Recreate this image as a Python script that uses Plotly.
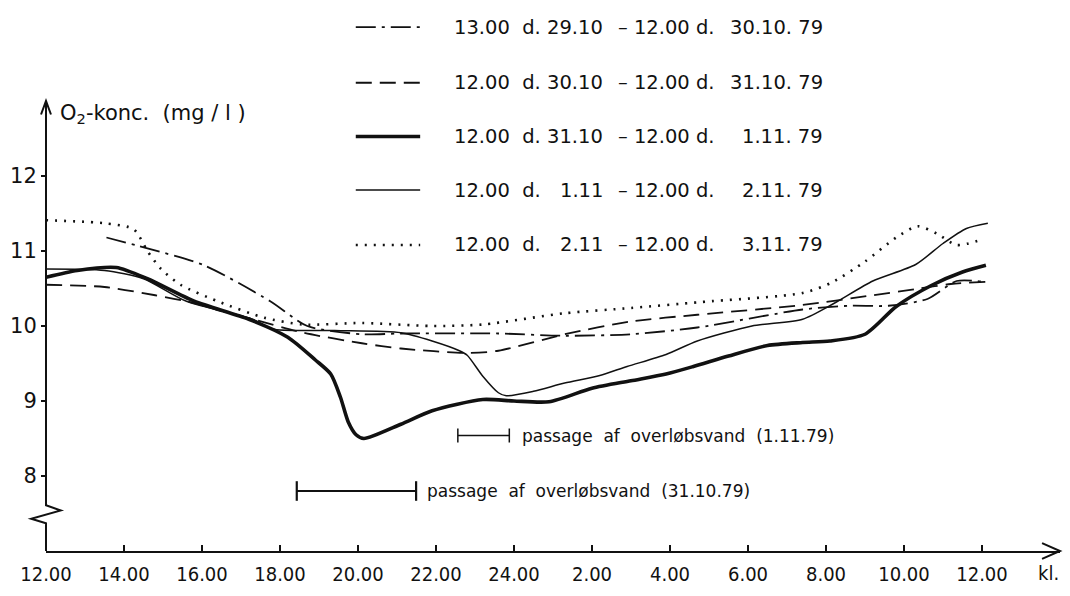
import plotly.graph_objects as go

# ---------------- data (hours after 12.00, O2 mg/l) ----------------
h_291030 = [1.55, 2.35, 4.05, 5.75, 6.7, 8.1, 9.1, 11.6, 13.3, 15.0, 16.7, 19.4, 20.6, 21.6, 22.6, 23.35, 24.05]
v_291030 = [11.18, 11.07, 10.81, 10.33, 10.0, 9.89, 9.90, 9.90, 9.87, 9.89, 9.98, 10.22, 10.27, 10.27, 10.36, 10.60, 10.59]

h_301031 = [0, 1.5, 2.8, 3.6, 5.3, 6.6, 8.1, 9.1, 10.8, 11.6, 13.3, 15.0, 16.7, 19.4, 21.2, 22.4, 23.2, 24.1]
v_301031 = [10.55, 10.52, 10.41, 10.33, 10.09, 9.91, 9.77, 9.70, 9.64, 9.67, 9.89, 10.06, 10.15, 10.28, 10.41, 10.50, 10.56, 10.59]

h_3110111 = [0, 0.8, 1.8, 2.6, 3.8, 5.2, 6.2, 6.9, 7.3, 7.55, 7.75, 7.95, 8.15, 9.1, 9.9, 11.2, 12.0, 12.9, 14.0, 15.0, 15.9, 16.6, 17.5, 18.5, 19.4, 20.1, 21.0, 21.8, 22.7, 23.5, 24.1]
v_3110111 = [10.65, 10.74, 10.78, 10.63, 10.33, 10.09, 9.85, 9.55, 9.36, 9.05, 8.72, 8.55, 8.50, 8.69, 8.87, 9.02, 9.00, 8.99, 9.17, 9.27, 9.36, 9.46, 9.60, 9.74, 9.78, 9.80, 9.89, 10.26, 10.54, 10.72, 10.81]

h_111211 = [0, 1.5, 2.5, 3.6, 5.3, 5.8, 7.4, 9.1, 9.9, 10.6, 10.8, 11.2, 11.6, 11.8, 12.5, 13.3, 14.2, 14.9, 15.9, 16.7, 18.1, 19.4, 20.2, 21.2, 22.3, 23.0, 23.6, 24.15]
v_111211 = [10.76, 10.74, 10.63, 10.33, 10.09, 9.96, 9.94, 9.91, 9.80, 9.67, 9.61, 9.33, 9.11, 9.07, 9.13, 9.24, 9.34, 9.46, 9.62, 9.80, 10.00, 10.09, 10.30, 10.60, 10.82, 11.10, 11.30, 11.37]

h_211311 = [0, 1.5, 2.25, 2.6, 2.95, 3.45, 4.4, 5.6, 6.6, 8.1, 9.9, 11.2, 13.3, 15.0, 16.8, 19.4, 20.15, 21.0, 21.8, 22.35, 22.85, 23.35, 24.05]
v_211311 = [11.41, 11.37, 11.29, 11.0, 10.76, 10.55, 10.33, 10.11, 10.02, 10.04, 10.0, 10.02, 10.17, 10.24, 10.32, 10.44, 10.58, 10.86, 11.18, 11.33, 11.23, 11.08, 11.16]

# overflow-water passage intervals (hours) and drawing level (mg/l)
pass_1_11 = [10.56, 11.88]
pass_1_11_level = 8.54
pass_31_10 = [6.43, 9.49]
pass_31_10_level = 7.80

tick_hours = [0, 2, 4, 6, 8, 10, 12, 14, 16, 18, 20, 22, 24]
tick_labels = ["12.00", "14.00", "16.00", "18.00", "20.00", "22.00", "24.00",
               "2.00", "4.00", "6.00", "8.00", "10.00", "12.00"]
y_ticks = [8, 9, 10, 11, 12]

legend_rows = [
    ("13.00  d.", "29.10", "– 12.00 d.", "30.10. 79"),
    ("12.00  d.", "30.10", "– 12.00 d.", "31.10. 79"),
    ("12.00  d.", "31.10", "– 12.00 d.", "1.11. 79"),
    ("12.00  d.", "1.11", "– 12.00 d.", "2.11. 79"),
    ("12.00  d.", "2.11", "– 12.00 d.", "3.11. 79"),
]

FONT = "DejaVu Sans"
COND = "DejaVu Sans Condensed, DejaVu Sans"
BLACK = "#111111"

styles = [
    dict(width=1.8, dash="20px,6px,3px,6px"),
    dict(width=1.8, dash="16px,8px"),
    dict(width=3.6, dash="solid"),
    dict(width=1.5, dash="solid"),
    dict(width=2.6, dash="2px,7px"),
]
series = [(h_291030, v_291030), (h_301031, v_301031), (h_3110111, v_3110111),
          (h_111211, v_111211), (h_211311, v_211311)]

fig = go.Figure()
for (hh, vv), st in zip(series, styles):
    fig.add_trace(go.Scatter(x=hh, y=vv, mode="lines", showlegend=False,
                             line=dict(color=BLACK, width=st["width"], dash=st["dash"],
                                       shape="spline", smoothing=0.7),
                             hoverinfo="skip"))

for rng, lvl, w, ms in [(pass_1_11, pass_1_11_level, 1.5, 10), (pass_31_10, pass_31_10_level, 2.2, 14)]:
    fig.add_trace(go.Scatter(x=rng, y=[lvl, lvl], mode="lines+markers", showlegend=False,
                             line=dict(color=BLACK, width=w),
                             marker=dict(symbol="line-ns", size=ms, line=dict(color=BLACK, width=w)),
                             hoverinfo="skip"))

annotations = [
    dict(x=pass_1_11[1], y=pass_1_11_level, xref="x", yref="y", xanchor="left", yanchor="middle",
         xshift=11, text="passage  af  overløbsvand  (1.11.79)", showarrow=False,
         font=dict(family=FONT, size=17, color=BLACK)),
    dict(x=pass_31_10[1], y=pass_31_10_level, xref="x", yref="y", xanchor="left", yanchor="middle",
         xshift=9, text="passage  af  overløbsvand  (31.10.79)", showarrow=False,
         font=dict(family=FONT, size=17, color=BLACK)),
    dict(x=0.012, y=1.0, xref="paper", yref="paper", xanchor="left", yanchor="top", yshift=2,
         text="O<sub>2</sub>-konc.  (mg / l )", showarrow=False,
         font=dict(family=FONT, size=21, color=BLACK)),
    dict(x=0.976, y=0, xref="paper", yref="paper", xanchor="left", yanchor="top", yshift=-8,
         text="kl.", showarrow=False, font=dict(family=COND, size=20, color=BLACK)),
]

shapes = []
row_y = [1.164, 1.0406, 0.921, 0.802, 0.680]
for (a, b, c, d), yy, st in zip(legend_rows, row_y, styles):
    shapes.append(dict(type="line", xref="paper", yref="paper", x0=0.3055, x1=0.369, y0=yy, y1=yy,
                       line=dict(color=BLACK, width=st["width"], dash=st["dash"])))
    annotations += [
        dict(x=0.4008, y=yy, text=a, xanchor="left"),
        dict(x=0.551, y=yy, text=b, xanchor="right"),
        dict(x=0.5619, y=yy, text=c, xanchor="left"),
        dict(x=0.768, y=yy, text=d, xanchor="right"),
    ]
for an in annotations:
    an.setdefault("xref", "paper")
    an.setdefault("yref", "paper")
    an.setdefault("yanchor", "middle")
    an.setdefault("showarrow", False)
    an.setdefault("font", dict(family=FONT, size=19.5, color=BLACK))

# y axis line with break, and arrows
shapes.append(dict(type="path", xref="paper", yref="paper",
                   path="M 0 1 L 0 0.1017 L 0.0146 0.09 L -0.0146 0.0717 L 0 0.0617 L 0 0",
                   line=dict(color=BLACK, width=2)))
shapes.append(dict(type="path", xref="paper", yref="paper",
                   path="M -0.0049 0.970 L 0 1.0 L 0.0049 0.970", line=dict(color=BLACK, width=2)))
shapes.append(dict(type="path", xref="paper", yref="paper",
                   path="M 0.9823 0.0174 L 1.0 0 L 0.9823 -0.0174", line=dict(color=BLACK, width=2)))

fig.update_layout(
    width=1070, height=596,
    margin=dict(l=42, r=10, t=101, b=34),
    paper_bgcolor="white", plot_bgcolor="white",
    showlegend=False,
    shapes=shapes, annotations=annotations,
    font=dict(family=FONT, color=BLACK),
)
fig.update_xaxes(range=[0, 26], tickvals=tick_hours, ticktext=tick_labels,
                 showline=True, linecolor=BLACK, linewidth=2, ticks="inside", ticklen=6,
                 tickwidth=1.5, tickcolor=BLACK, showgrid=False, zeroline=False,
                 ticklabelstandoff=4,
                 tickfont=dict(family=COND, size=20, color=BLACK))
fig.update_yaxes(range=[7, 13], tickvals=y_ticks, ticktext=[str(t) for t in y_ticks],
                 showline=False, ticks="outside", ticklen=4, tickwidth=1.5, tickcolor=BLACK,
                 showgrid=False, zeroline=False,
                 tickfont=dict(family=FONT, size=21, color=BLACK))

fig.write_html("out.html")
